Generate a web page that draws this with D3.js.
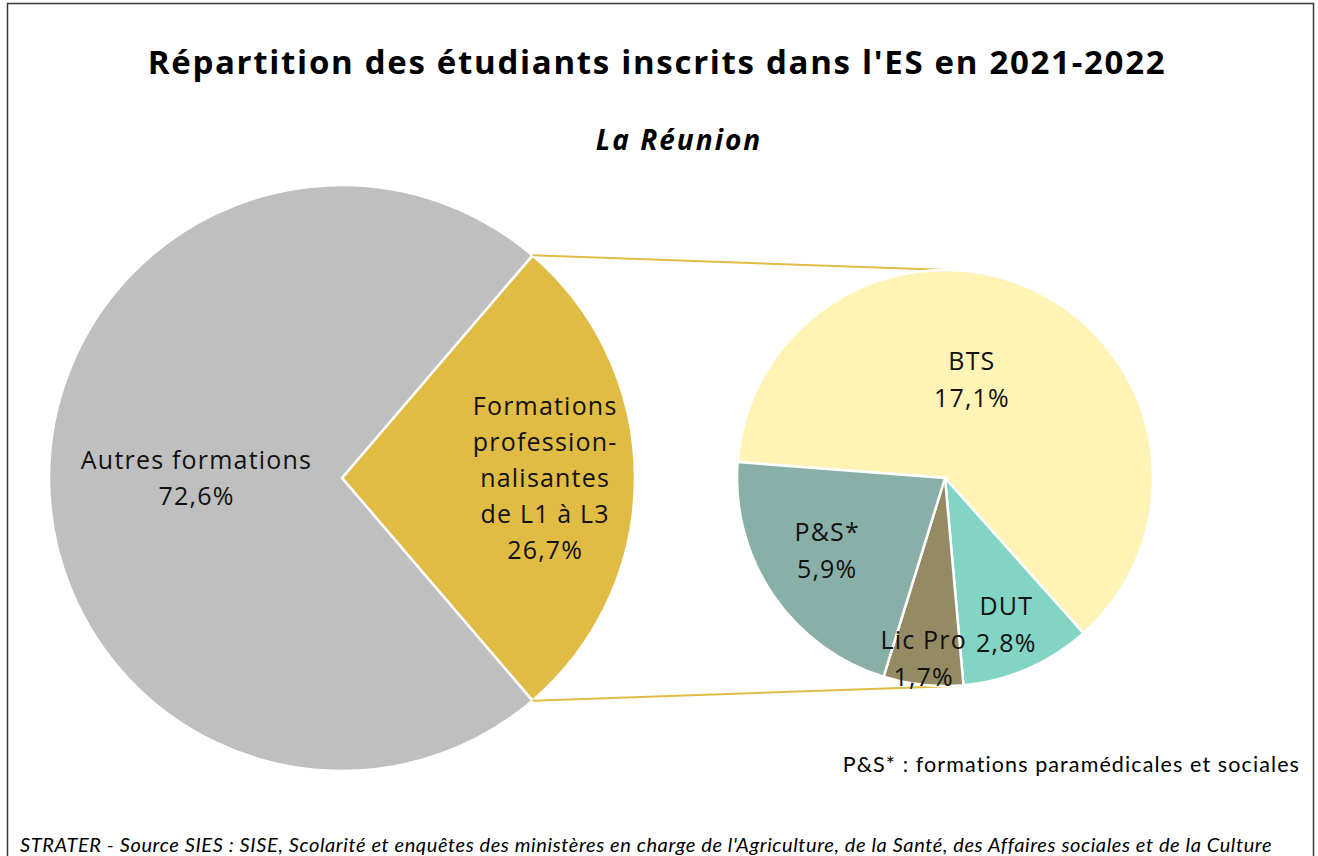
<!DOCTYPE html>
<html>
<head>
<meta charset="utf-8">
<script src="https://cdn.jsdelivr.net/npm/d3@7"></script>
<style>
  body { margin: 0; background: #fff; }
  svg { display: block; font-family: "Open Sans", Lato, sans-serif; }
  .calibri { font-family: Lato, sans-serif; }
</style>
</head>
<body>
<div id="chart"></div>
<script>
// main pie
var mainCategories = ["Formations professionnalisantes de L1 à L3", "Autres formations"];
var mainLabels = [["Formations", "profession-", "nalisantes", "de L1 à L3", "26,7%"], ["Autres formations", "72,6%"]];
// detail of the professional courses
var subCategories = ["BTS", "DUT", "Lic Pro", "P&S*"];
var subValues = [17.1, 2.8, 1.7, 5.9];
var subLabels = [["BTS", "17,1%"], ["DUT", "2,8%"], ["Lic Pro", "1,7%"], ["P&S*", "5,9%"]];
var mainValues = [d3.sum(subValues), 72.6];

var width = 1318, height = 856;
var mainCx = 342, mainCy = 478, mainR = 293;
var subCx = 945, subCy = 478, subR = 208;

var mainColor = d3.scaleOrdinal().domain(mainCategories).range(["#E1BC45", "#BFBFBF"]);
var subColor = d3.scaleOrdinal().domain(subCategories).range(["#FFF3B6", "#82D4C5", "#948A63", "#89B0A8"]);

var svg = d3.select("#chart").append("svg")
  .attr("width", width)
  .attr("height", height);

// frame
svg.append("rect")
  .attr("x", 7.5).attr("y", 3.5)
  .attr("width", 1306).attr("height", 900)
  .attr("fill", "none")
  .attr("stroke", "#3a3a3a")
  .attr("stroke-width", 1.5);

svg.append("text")
  .attr("x", 657).attr("y", 74)
  .attr("text-anchor", "middle")
  .style("font-size", "33px").style("font-weight", "bold")
  .style("letter-spacing", "1.7px")
  .text("Répartition des étudiants inscrits dans l'ES en 2021-2022");

svg.append("text")
  .attr("x", 679).attr("y", 150)
  .attr("text-anchor", "middle")
  .style("font-size", "28px").style("font-weight", "bold").style("font-style", "italic")
  .style("letter-spacing", "2px")
  .text("La Réunion");

// main pie, the professional slice centred on the right
var total = d3.sum(mainValues);
var span = mainValues[0] / total * 2 * Math.PI;
var start = Math.PI / 2 - span / 2;
var mainPie = d3.pie().sort(null).startAngle(start).endAngle(start + 2 * Math.PI)(mainValues);
var mainArc = d3.arc().innerRadius(0).outerRadius(mainR);

var gMain = svg.append("g").attr("transform", "translate(" + mainCx + "," + mainCy + ")");
gMain.selectAll("path").data(mainPie).enter().append("path")
  .attr("d", mainArc)
  .attr("fill", function(d, i) { return mainColor(mainCategories[i]); })
  .attr("stroke", "#fff").attr("stroke-width", 2.5);

// label placement: fraction of radius, angular nudge in degrees
var mainLabelPos = [[0.69, 0], [0.5, 0]];
var subLabelPos = [[0.49, -11.6], [0.76, 1], [0.875, 1], [0.67, 2.7]];

function drawLabels(g, arcs, r0, pos, labels, lh) {
  g.selectAll("text.lbl").data(arcs).enter().append("text")
    .attr("class", "lbl")
    .attr("text-anchor", "middle")
    .style("font-size", "25px")
    .style("letter-spacing", "1.2px")
    .attr("fill", "#111")
    .each(function(d, i) {
      var r = r0 * pos[i][0];
      var a = (d.startAngle + d.endAngle) / 2 + pos[i][1] * Math.PI / 180;
      var cx = r * Math.sin(a) + 1, cy = -r * Math.cos(a);
      var lines = labels[i];
      var t = d3.select(this);
      lines.forEach(function(s, k) {
        t.append("tspan")
          .attr("x", cx)
          .attr("y", cy + (k - (lines.length - 1) / 2) * lh + 9)
          .text(s);
      });
    });
}
drawLabels(gMain, mainPie, mainR, mainLabelPos, mainLabels, 36);

// connector lines
var topPt = [mainCx + mainR * Math.sin(start), mainCy - mainR * Math.cos(start)];
var botPt = [mainCx + mainR * Math.sin(start + span), mainCy - mainR * Math.cos(start + span)];
svg.append("line")
  .attr("x1", topPt[0]).attr("y1", topPt[1])
  .attr("x2", subCx + 3).attr("y2", subCy - subR)
  .attr("stroke", "#E1BC45").attr("stroke-width", 2);
svg.append("line")
  .attr("x1", botPt[0]).attr("y1", botPt[1])
  .attr("x2", subCx + 12).attr("y2", subCy + subR)
  .attr("stroke", "#E1BC45").attr("stroke-width", 2);

// second pie
var subStart = -85.6 * Math.PI / 180;
var subPie = d3.pie().sort(null).startAngle(subStart).endAngle(subStart + 2 * Math.PI)(subValues);
var subArc = d3.arc().innerRadius(0).outerRadius(subR);

var gSub = svg.append("g").attr("transform", "translate(" + subCx + "," + subCy + ")");
gSub.selectAll("path").data(subPie).enter().append("path")
  .attr("d", subArc)
  .attr("fill", function(d, i) { return subColor(subCategories[i]); })
  .attr("stroke", "#fff").attr("stroke-width", 2.5);

drawLabels(gSub, subPie, subR, subLabelPos, subLabels, 37);

svg.append("text")
  .attr("class", "calibri")
  .attr("x", 1300).attr("y", 772)
  .attr("text-anchor", "end")
  .style("font-size", "21.5px")
  .style("letter-spacing", "1.1px")
  .text("P&S* : formations paramédicales et sociales");

svg.append("text")
  .attr("class", "calibri")
  .attr("x", 20).attr("y", 852)
  .style("font-size", "20px").style("font-style", "italic")
  .style("letter-spacing", "0.6px")
  .text("STRATER - Source SIES : SISE, Scolarité et enquêtes des ministères en charge de l'Agriculture, de la Santé, des Affaires sociales et de la Culture");
</script>
</body>
</html>
